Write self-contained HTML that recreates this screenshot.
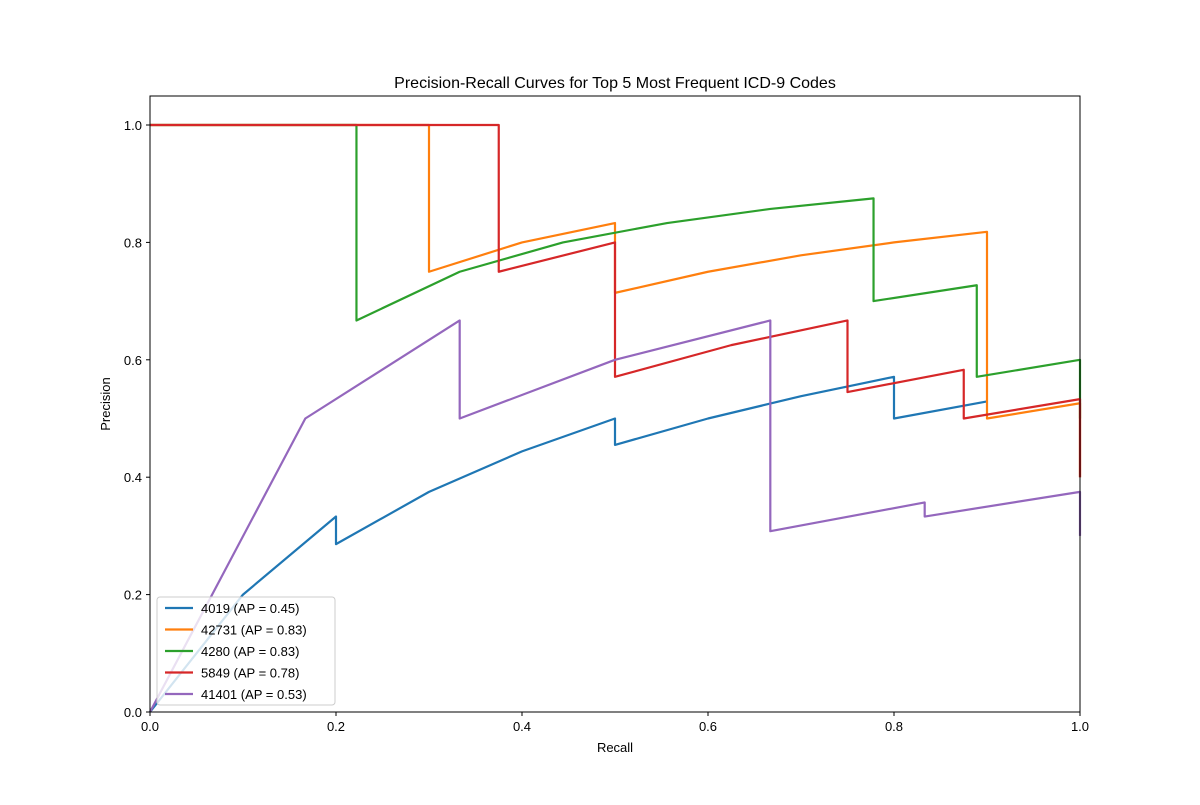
<!DOCTYPE html>
<html><head><meta charset="utf-8"><style>
body{margin:0;background:#fff;}
svg{font-family:"Liberation Sans","DejaVu Sans",sans-serif;}
</style></head><body>
<svg id="chart" width="1200" height="800" viewBox="0 0 1200 800">
<rect width="1200" height="800" fill="#fff"/>
<text x="615" y="88" font-size="16" text-anchor="middle">Precision-Recall Curves for Top 5 Most Frequent ICD-9 Codes</text>
<g id="axes"></g>
<g id="lines"></g>
<rect x="150" y="96" width="930" height="616" fill="none" stroke="#000" stroke-width="1"/>
<text x="615" y="752" font-size="13" text-anchor="middle">Recall</text>
<text x="110" y="404" font-size="13" text-anchor="middle" transform="rotate(-90 110 404)">Precision</text>
<g id="legend"></g>
</svg>
<script>
const seriesNames = ["4019 (AP = 0.45)","42731 (AP = 0.83)","4280 (AP = 0.83)","5849 (AP = 0.78)","41401 (AP = 0.53)"];
const seriesColors = ["#1f77b4","#ff7f0e","#2ca02c","#d62728","#9467bd"];
const recall4019 = [0,0.1,0.2,0.2,0.3,0.4,0.5,0.5,0.6,0.7,0.8,0.8,0.9];
const prec4019 = [0,0.2,0.333,0.286,0.375,0.444,0.5,0.455,0.5,0.538,0.571,0.5,0.529];
const recall42731 = [0,0.3,0.3,0.4,0.5,0.5,0.6,0.7,0.8,0.9,0.9,1.0,1.0];
const prec42731 = [1,1,0.75,0.8,0.833,0.714,0.75,0.778,0.8,0.818,0.5,0.526,0.4];
const recall4280 = [0,0.222,0.222,0.333,0.444,0.556,0.667,0.778,0.778,0.889,0.889,1.0,1.0];
const prec4280 = [1,1,0.667,0.75,0.8,0.833,0.857,0.875,0.7,0.727,0.571,0.6,0.5];
const recall5849 = [0,0.375,0.375,0.5,0.5,0.625,0.75,0.75,0.875,0.875,1.0,1.0];
const prec5849 = [1,1,0.75,0.8,0.571,0.625,0.667,0.545,0.583,0.5,0.533,0.4];
const recall41401 = [0,0.167,0.333,0.333,0.5,0.667,0.667,0.833,0.833,1.0,1.0];
const prec41401 = [0,0.5,0.667,0.5,0.6,0.667,0.308,0.357,0.333,0.375,0.3];
const xTicks = [0,0.2,0.4,0.6,0.8,1.0];
const yTicks = [0,0.2,0.4,0.6,0.8,1.0];
const xTickLabels = ["0.0","0.2","0.4","0.6","0.8","1.0"];
const yTickLabels = ["0.0","0.2","0.4","0.6","0.8","1.0"];

const NS="http://www.w3.org/2000/svg";
const sx=v=>150+v*930;
const sy=v=>712-v*587;
function mk(t,a,p){const e=document.createElementNS(NS,t);for(const k in a)e.setAttribute(k,a[k]);p.appendChild(e);return e;}
const axes=document.getElementById('axes');
xTicks.forEach((v,i)=>{
  const t=mk('line',{x1:sx(v),x2:sx(v),y1:712,y2:716,stroke:'#000'},axes);
  
  
  const l=mk('text',{x:sx(v),y:731,'font-size':13,'text-anchor':'middle'},axes);
  l.textContent=xTickLabels[i];
  
  
});
yTicks.forEach((v,i)=>{
  const t=mk('line',{x1:146,x2:150,y1:sy(v),y2:sy(v),stroke:'#000'},axes);
  
  
  const l=mk('text',{x:142,y:sy(v)+5,'font-size':13,'text-anchor':'end'},axes);
  l.textContent=yTickLabels[i];
  
  
});
const data=[[recall4019,prec4019],[recall42731,prec42731],[recall4280,prec4280],[recall5849,prec5849],[recall41401,prec41401]];
const lines=document.getElementById('lines');
data.forEach((d,i)=>{
  const pts=d[0].map((r,j)=>sx(r)+','+sy(d[1][j])).join(' ');
  const p=mk('polyline',{points:pts,fill:'none',stroke:seriesColors[i],'stroke-width':2.2,'stroke-linejoin':'round'},lines);
  
  
});
const lg=document.getElementById('legend');
const box=mk('rect',{x:157,y:597,width:178,height:108,rx:3,fill:'#fff','fill-opacity':0.8,stroke:'#ccc'},lg);


seriesNames.forEach((n,i)=>{
  const y=608+i*21.5;
  const ln=mk('line',{x1:165,x2:193,y1:y,y2:y,stroke:seriesColors[i],'stroke-width':2.2},lg);
  
  
  const t=mk('text',{x:201,y:y+5,'font-size':13},lg);
  t.textContent=n;
  
  
});
</script>
</body></html>
